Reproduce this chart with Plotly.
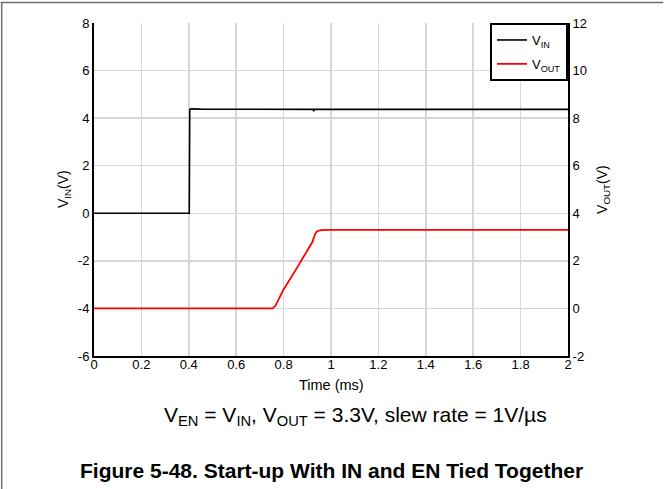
import plotly.graph_objects as go

# ---- data ----
vin_time = [0.0, 0.2, 0.402, 0.404, 0.41, 0.45, 0.5, 0.6, 0.7, 0.8, 0.9, 0.925, 0.927, 0.929,
            1.0, 1.1, 1.2, 1.3, 1.4, 1.5, 1.6, 1.7, 1.8, 1.9, 2.0]
vin_volts = [0.0, 0.0, 0.0, 4.36, 4.39, 4.38, 4.38, 4.37, 4.38, 4.38, 4.37, 4.37, 4.29, 4.37,
             4.37, 4.37, 4.36, 4.37, 4.37, 4.36, 4.37, 4.37, 4.36, 4.37, 4.37]

vout_time = [0.0, 0.2, 0.4, 0.6, 0.7, 0.753, 0.765, 0.78, 0.8, 0.85, 0.9, 0.922, 0.93, 0.937,
             0.945, 0.96, 1.0, 1.2, 1.4, 1.6, 1.8, 2.0]
vout_volts = [0.0, 0.0, 0.0, 0.0, 0.0, 0.0, 0.1, 0.4, 0.8, 1.6, 2.41, 2.8, 3.05, 3.2,
              3.26, 3.29, 3.3, 3.3, 3.31, 3.3, 3.3, 3.3]

x_ticks = [0, 0.2, 0.4, 0.6, 0.8, 1, 1.2, 1.4, 1.6, 1.8, 2]
x_ticklabels = ["0", "0.2", "0.4", "0.6", "0.8", "1", "1.2", "1.4", "1.6", "1.8", "2"]
y1_ticks = [-6, -4, -2, 0, 2, 4, 6, 8]
y1_ticklabels = ["-6", "-4", "-2", "0", "2", "4", "6", "8"]
y2_ticks = [-2, 0, 2, 4, 6, 8, 10, 12]
y2_ticklabels = ["-2", "0", "2", "4", "6", "8", "10", "12"]

FONT = "Liberation Sans, Arial, sans-serif"
W, H = 664, 489
L, R, T, B = 93.5, 95.5, 23, 133
pw, ph = W - L - R, H - T - B

def px(xp):
    return (xp - L) / pw

def py(yp):
    return (H - B - yp) / ph

fig = go.Figure()
fig.add_trace(go.Scatter(x=vin_time, y=vin_volts, mode="lines", name="V<sub>IN</sub>",
                         legendgroup="a",
                         line=dict(color="black", width=1.6), yaxis="y"))
fig.add_trace(go.Scatter(x=vout_time, y=vout_volts, mode="lines", name="V<sub>OUT</sub>",
                         legendgroup="b",
                         line=dict(color="#ff0000", width=1.8), yaxis="y2"))

grid = "#d6d6d6"
fig.update_layout(
    width=W, height=H,
    margin=dict(l=L, r=R, t=T, b=B, pad=0, autoexpand=False),
    paper_bgcolor="white", plot_bgcolor="white",
    font=dict(family=FONT, size=13, color="black"),
    showlegend=True,
    legend=dict(x=1, xanchor="right", y=1, yanchor="top", bgcolor="white",
                bordercolor="black", borderwidth=2, font=dict(size=13, family=FONT),
                tracegroupgap=4),
    xaxis=dict(range=[0, 2], tickvals=x_ticks, ticktext=x_ticklabels, showgrid=True,
               gridcolor=grid, gridwidth=1.5, showline=True, linecolor="black", linewidth=2,
               ticks="", zeroline=False, ticklabelstandoff=-5),
    yaxis=dict(range=[-6, 8], tickvals=y1_ticks, ticktext=y1_ticklabels, showgrid=True,
               gridcolor=grid, gridwidth=1.5, showline=True, linecolor="black", linewidth=2,
               ticks="", zeroline=False),
    yaxis2=dict(range=[-2, 12], tickvals=y2_ticks, ticktext=y2_ticklabels, overlaying="y",
                side="right", showgrid=False, showline=True, linecolor="black", linewidth=2,
                ticks="", zeroline=False),
)

annots = [
    dict(text="Time (ms)", x=px(331), y=py(385), size=14.5),
    dict(text="V<sub>EN</sub> = V<sub>IN</sub>, V<sub>OUT</sub> = 3.3V, slew rate = 1V/µs",
         x=px(356), y=py(416), size=21),
    dict(text="<b>Figure 5-48. Start-up With IN and EN Tied Together</b>",
         x=px(332), y=py(470), size=21),
]
for a in annots:
    fig.add_annotation(text=a["text"], x=a["x"], y=a["y"], xref="paper", yref="paper",
                       showarrow=False, xanchor="center", yanchor="middle",
                       font=dict(size=a["size"], family=FONT, color="black"))

fig.add_annotation(text="V<sub>IN</sub>(V)", x=px(63), y=py(189.5), xref="paper", yref="paper",
                   showarrow=False, textangle=-90, xanchor="center", yanchor="middle",
                   font=dict(size=14, family=FONT))
fig.add_annotation(text="V<sub>OUT</sub>(V)", x=px(603), y=py(189.5), xref="paper", yref="paper",
                   showarrow=False, textangle=-90, xanchor="center", yanchor="middle",
                   font=dict(size=14, family=FONT))

# page frame lines
fig.add_shape(type="line", xref="paper", yref="paper", x0=px(0), x1=px(W), y0=py(2.5), y1=py(2.5),
              line=dict(color="#707070", width=1.5))
fig.add_shape(type="line", xref="paper", yref="paper", x0=px(1), x1=px(1), y0=py(2.5), y1=py(H),
              line=dict(color="#707070", width=1.5))

fig.write_html("out.html", config={"displayModeBar": False, "staticPlot": True},
               post_script="document.body.style.margin='0';document.body.style.padding='0';"
                           "document.body.style.overflow='hidden';")
